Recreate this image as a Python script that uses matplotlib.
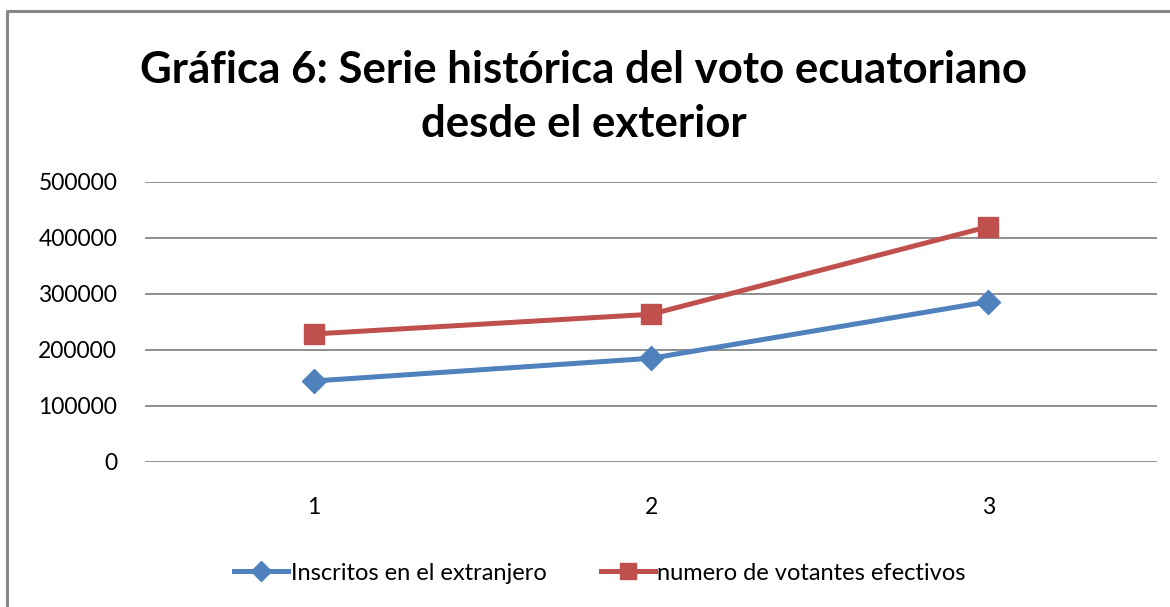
import matplotlib
matplotlib.use('Agg')
import matplotlib.pyplot as plt
from matplotlib.lines import Line2D

# datos
categorias = [1, 2, 3]
inscritos = [144600, 185200, 286300]
votantes = [228600, 263800, 420200]
etiquetas_series = ['Inscritos en el extranjero', 'numero de votantes efectivos']
titulo = 'Gráfica 6: Serie histórica del voto ecuatoriano\ndesde el exterior'
yticks = [0, 100000, 200000, 300000, 400000, 500000]

AZUL = '#4F81BD'
ROJO = '#C0504D'
GRIS = '#868686'

plt.rcParams['font.family'] = ['Lato', 'DejaVu Sans']

W, H = 1170, 607
fig = plt.figure(figsize=(W / 100, H / 100), dpi=100)
ax = fig.add_axes([145 / W, 1 - 462 / H, (1157 - 145) / W, (462 - 182) / H])

ax.plot(categorias, inscritos, color=AZUL, lw=3.6, marker='D', ms=12,
        label=etiquetas_series[0], solid_capstyle='round')
ax.plot(categorias, votantes, color=ROJO, lw=3.6, marker='s', ms=15,
        label=etiquetas_series[1], solid_capstyle='round')

ax.set_xlim(0.5, 3.5)
ax.set_ylim(0, 500000)
ax.set_yticks(yticks)
ax.set_yticklabels([str(v) for v in yticks])
ax.set_xticks(categorias)
ax.set_xticklabels([str(c) for c in categorias])
ax.yaxis.grid(True, color=GRIS, lw=1.3)
ax.set_axisbelow(True)
for s in ax.spines.values():
    s.set_visible(False)
ax.tick_params(axis='both', length=0, labelsize=16.5)
ax.tick_params(axis='y', pad=20)
ax.tick_params(axis='x', pad=25)

fig.text(584 / W, 1 - 97 / H, titulo, ha='center', va='center',
         fontsize=31.5, fontweight='bold', linespacing=1.42)

handles = [Line2D([], [], color=AZUL, lw=3.6, marker='D', ms=10),
           Line2D([], [], color=ROJO, lw=3.6, marker='s', ms=12)]
fig.legend(handles, etiquetas_series, loc='center', bbox_to_anchor=(600 / W, 1 - 573 / H),
           ncol=2, frameon=False, fontsize=17, handlelength=2.3, handletextpad=0.1,
           columnspacing=2.3)

# borde del area del grafico
fig.add_artist(Line2D([7 / W, 7 / W, 1.0], [0.0, 1 - 11 / H, 1 - 11 / H],
                      transform=fig.transFigure, color=GRIS, lw=2.2))

fig.savefig('out.png', dpi=100, facecolor='white')
